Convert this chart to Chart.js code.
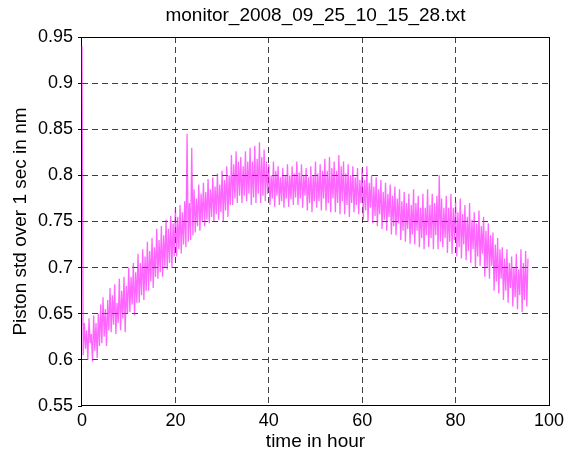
<!DOCTYPE html>
<html>
<head>
<meta charset="utf-8">
<script src="https://cdn.jsdelivr.net/npm/chart.js@4"></script>
<style>
  html,body{margin:0;padding:0;background:#fff}
  #wrap{width:568px;height:453px}
</style>
</head>
<body>
<div id="wrap"><canvas id="grafico" width="568" height="453"></canvas></div>
<script>
const chartTitle = 'monitor_2008_09_25_10_15_28.txt';
const xLabel = 'time in hour';
const yLabel = 'Piston std over 1 sec in nm';
const xTicks = [0, 20, 40, 60, 80, 100];
const yTicks = [0.55, 0.6, 0.65, 0.7, 0.75, 0.8, 0.85, 0.9, 0.95];
const sampleStep = 0.25; // hours between samples

// piston std (nm), one sample every quarter hour (8 per 2 h)
const piston = [
  0.940,0.605,0.640,0.612,0.632,0.600,0.645,0.618,  0.628,0.598,0.648,0.610,0.640,0.602,0.650,0.615,
  0.660,0.618,0.668,0.625,0.655,0.615,0.665,0.632,  0.678,0.630,0.670,0.638,0.682,0.628,0.662,0.640,
  0.688,0.632,0.675,0.645,0.690,0.630,0.680,0.650,  // 0-10 h
  0.700,0.652,0.690,0.660,0.705,0.648,0.695,0.662,  0.715,0.662,0.705,0.670,0.720,0.665,0.712,0.675,
  0.728,0.675,0.718,0.685,0.732,0.678,0.722,0.690,  0.742,0.688,0.730,0.695,0.745,0.690,0.735,0.700,
  0.752,0.698,0.742,0.705,0.756,0.700,0.748,0.712,  // 10-20 h
  0.765,0.712,0.755,0.720,0.768,0.715,0.760,0.725,  0.772,0.722,0.845,0.728,0.770,0.730,0.830,0.735,
  0.785,0.738,0.775,0.745,0.790,0.740,0.780,0.750,  0.792,0.745,0.782,0.752,0.796,0.748,0.785,0.755,
  0.798,0.750,0.788,0.758,0.802,0.752,0.790,0.760,  // 20-30 h
  0.805,0.750,0.795,0.762,0.810,0.755,0.800,0.768,  0.822,0.768,0.812,0.775,0.826,0.770,0.815,0.778,
  0.820,0.770,0.810,0.778,0.826,0.772,0.815,0.780,  0.830,0.768,0.815,0.776,0.832,0.770,0.818,0.780,
  0.836,0.770,0.820,0.778,0.828,0.772,0.815,0.780,  // 30-40 h
  0.812,0.768,0.800,0.775,0.815,0.766,0.805,0.778,  0.810,0.768,0.798,0.772,0.808,0.765,0.800,0.775,
  0.812,0.766,0.800,0.774,0.810,0.768,0.802,0.776,  0.815,0.768,0.803,0.775,0.812,0.765,0.800,0.778,
  0.808,0.762,0.798,0.770,0.810,0.760,0.800,0.772,  // 40-50 h
  0.815,0.765,0.802,0.772,0.812,0.762,0.805,0.775,  0.818,0.762,0.805,0.770,0.820,0.760,0.808,0.775,
  0.815,0.760,0.805,0.770,0.822,0.758,0.810,0.772,  0.815,0.758,0.802,0.768,0.812,0.755,0.800,0.770,
  0.810,0.760,0.798,0.768,0.808,0.758,0.795,0.770,  // 50-60 h
  0.808,0.752,0.795,0.762,0.810,0.750,0.792,0.765,  0.800,0.748,0.788,0.756,0.798,0.745,0.785,0.758,
  0.795,0.742,0.782,0.752,0.792,0.740,0.780,0.755,  0.790,0.736,0.778,0.745,0.788,0.735,0.775,0.748,
  0.785,0.730,0.772,0.740,0.782,0.728,0.770,0.742,  // 60-70 h
  0.780,0.726,0.768,0.736,0.785,0.725,0.770,0.740,  0.778,0.722,0.765,0.732,0.780,0.720,0.765,0.735,
  0.785,0.722,0.768,0.732,0.780,0.720,0.770,0.735,  0.778,0.720,0.800,0.728,0.775,0.722,0.765,0.732,
  0.778,0.716,0.765,0.728,0.780,0.715,0.765,0.730,  // 70-80 h
  0.772,0.712,0.760,0.722,0.775,0.710,0.758,0.725,  0.768,0.708,0.755,0.718,0.770,0.705,0.752,0.720,
  0.760,0.700,0.748,0.712,0.762,0.702,0.745,0.715,  0.755,0.690,0.740,0.700,0.748,0.688,0.735,0.702,
  0.738,0.675,0.725,0.685,0.732,0.672,0.720,0.688,  // 80-90 h
  0.722,0.665,0.710,0.675,0.720,0.662,0.705,0.678,  0.712,0.658,0.700,0.668,0.715,0.655,0.698,0.670,
  0.720,0.652,0.705,0.665,0.718,0.658,0.710         // 90-95.5 h
];

const FONT = '"Liberation Sans", Arial, Helvetica, sans-serif';

// grid tracejado só por dentro (as bordas ficam com a caixa)
const gridColor = ctx => (ctx.index === 0 || ctx.index === ctx.scale.ticks.length - 1) ? 'rgba(0,0,0,0)' : 'rgba(0,0,0,0.75)';

// caixa preta (antes da linha) + titulo por cima da area do grafico
const boxPlugin = {
  id: 'box',
  beforeDatasetsDraw(chart) {
    const {ctx, chartArea: a} = chart;
    const l = Math.round(a.left) - 0.5, t = Math.round(a.top) + 0.5;
    const r = Math.round(a.right) + 0.5, b = Math.round(a.bottom) - 0.5;
    ctx.save();
    ctx.strokeStyle = '#000';
    ctx.lineWidth = 1;
    ctx.strokeRect(l, t, r - l, b - t);
    ctx.restore();
  },
  afterDraw(chart) {
    const {ctx, chartArea: a} = chart;
    ctx.save();
    ctx.fillStyle = '#000';
    ctx.font = '19px ' + FONT;
    ctx.textAlign = 'center';
    ctx.textBaseline = 'middle';
    ctx.fillText(chartTitle, (a.left + a.right) / 2, 16);
    ctx.restore();
  }
};

new Chart(document.getElementById('grafico').getContext('2d'), {
  type: 'line',
  data: {
    datasets: [{
      label: 'piston',
      data: piston.map((v, i) => ({x: i * sampleStep, y: v})),
      borderColor: 'rgba(255,0,255,0.6)',
      borderWidth: 1.3,
      pointRadius: 0,
      tension: 0,
      fill: false,
      clip: {left: 2, top: 0, right: 0, bottom: 0}
    }]
  },
  options: {
    responsive: false,
    animation: false,
    layout: {padding: {top: 37, right: 16, left: 0, bottom: 0}},
    plugins: {legend: {display: false}, title: {display: false}, tooltip: {enabled: false}},
    scales: {
      x: {
        type: 'linear', min: 0, max: 100,
        afterBuildTicks: s => { s.ticks = xTicks.map(v => ({value: v})); },
        afterFit: s => { s.height = 47; },
        grid: {color: gridColor, drawTicks: false},
        border: {display: false, dash: [6, 4]},
        ticks: {color: '#000', padding: 4, font: {family: FONT, size: 18}, maxRotation: 0, autoSkip: false},
        title: {display: true, text: xLabel, color: '#000', padding: {top: 4, bottom: 0}, font: {family: FONT, size: 19}}
      },
      y: {
        min: 0.55, max: 0.95,
        afterBuildTicks: s => { s.ticks = yTicks.map(v => ({value: v})); },
        afterFit: s => { s.width = 82; },
        grid: {color: gridColor, drawTicks: true, tickLength: 4, tickColor: '#000', tickBorderDash: []},
        border: {display: false, dash: [6, 4]},
        ticks: {color: '#000', padding: 5, font: {family: FONT, size: 18}, callback: v => String(+v.toFixed(2))},
        title: {display: true, text: yLabel, color: '#000', padding: {top: 9, bottom: 0}, font: {family: FONT, size: 19}}
      }
    }
  },
  plugins: [boxPlugin]
});
</script>
</body>
</html>
